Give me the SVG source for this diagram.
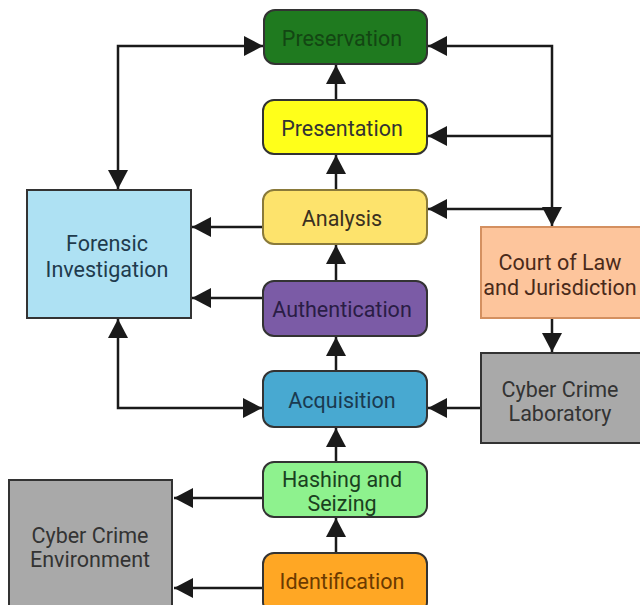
<svg xmlns="http://www.w3.org/2000/svg" width="640" height="605" viewBox="0 0 640 605">
<style>
text{font-family:Roboto,"Liberation Sans",sans-serif;font-size:21.5px;text-anchor:middle}
.n{stroke:#333;stroke-width:2}
.c{fill:none;stroke:#1a1a1a;stroke-width:2.5}
</style>
<defs>
<marker id="ah" markerUnits="userSpaceOnUse" markerWidth="20" markerHeight="20" viewBox="0 0 19 20" refX="19" refY="10" orient="auto-start-reverse">
<path d="M0,0 L19,10 L0,20 Z" fill="#1a1a1a"/>
</marker>
</defs>
<rect width="640" height="605" fill="#fff"/>
<g id="connectors">
<path class="c" d="M118,189 V46 H263" marker-start="url(#ah)" marker-end="url(#ah)"/>
<path class="c" d="M428,46 H552 V226" marker-start="url(#ah)" marker-end="url(#ah)"/>
<path class="c" d="M552,136 H428" marker-end="url(#ah)"/>
<path class="c" d="M552,209 H428" marker-end="url(#ah)"/>
<path class="c" d="M336,100 V65" marker-end="url(#ah)"/>
<path class="c" d="M336,190 V155" marker-end="url(#ah)"/>
<path class="c" d="M336,281 V245" marker-end="url(#ah)"/>
<path class="c" d="M336,371 V337" marker-end="url(#ah)"/>
<path class="c" d="M336,462 V428" marker-end="url(#ah)"/>
<path class="c" d="M336,553 V518" marker-end="url(#ah)"/>
<path class="c" d="M263,227 H192" marker-end="url(#ah)"/>
<path class="c" d="M263,298 H192" marker-end="url(#ah)"/>
<path class="c" d="M118,319 V408 H262" marker-start="url(#ah)" marker-end="url(#ah)"/>
<path class="c" d="M480,408 H428" marker-end="url(#ah)"/>
<path class="c" d="M552,319 V352" marker-end="url(#ah)"/>
<path class="c" d="M263,498 H174" marker-end="url(#ah)"/>
<path class="c" d="M263,588 H174" marker-end="url(#ah)"/>
</g>
<g id="preservation">
<rect class="n" x="264" y="10" width="163" height="54" rx="11" fill="#1f7a1f"/>
<text x="342" y="46" fill="#134613">Preservation</text>
</g>
<g id="presentation">
<rect class="n" x="263" y="100" width="164" height="54" rx="11" fill="#ffff1a"/>
<text x="342" y="136" fill="#333">Presentation</text>
</g>
<g id="analysis">
<rect x="263" y="190" width="164" height="54" rx="11" fill="#fde36c" stroke="#8a7a3a" stroke-width="2"/>
<text x="342" y="226" fill="#3a3020">Analysis</text>
</g>
<g id="authentication">
<rect class="n" x="263" y="281" width="164" height="55" rx="11" fill="#7b5ba6" stroke="#4a3a6a"/>
<text x="342" y="317" fill="#2a1d45">Authentication</text>
</g>
<g id="acquisition">
<rect class="n" x="263" y="371" width="164" height="56" rx="11" fill="#48a9d1" stroke="#2a5a70"/>
<text x="342" y="408" fill="#1a3a50">Acquisition</text>
</g>
<g id="hashing">
<rect class="n" x="263" y="462" width="164" height="55" rx="11" fill="#8ef28e" stroke="#2a4a2a"/>
<text x="342" y="487" fill="#1a4020">Hashing and</text>
<text x="342" y="511" fill="#1a4020">Seizing</text>
</g>
<g id="identification">
<rect class="n" x="263" y="553" width="164" height="60" rx="11" fill="#ffa724" stroke="#5a3a10"/>
<text x="342" y="589" fill="#6b3a00">Identification</text>
</g>
<g id="forensic">
<rect class="n" x="27" y="190" width="164" height="128" fill="#aee1f3" stroke="#2f3f4a"/>
<text x="107" y="251" fill="#1f3b4d">Forensic</text>
<text x="107" y="277" fill="#1f3b4d">Investigation</text>
</g>
<g id="court">
<rect x="481" y="227" width="165" height="91" fill="#fdc59c" stroke="#d49060" stroke-width="2"/>
<text x="560" y="270" fill="#4a2a1a">Court of Law</text>
<text x="560" y="295" fill="#4a2a1a">and Jurisdiction</text>
</g>
<g id="laboratory">
<rect class="n" x="481" y="353" width="165" height="90" fill="#a9a9a9"/>
<text x="560" y="397" fill="#333">Cyber Crime</text>
<text x="560" y="421" fill="#333">Laboratory</text>
</g>
<g id="environment">
<rect class="n" x="9" y="480" width="163" height="135" fill="#a9a9a9"/>
<text x="90" y="543" fill="#333">Cyber Crime</text>
<text x="90" y="567" fill="#333">Environment</text>
</g>
</svg>
